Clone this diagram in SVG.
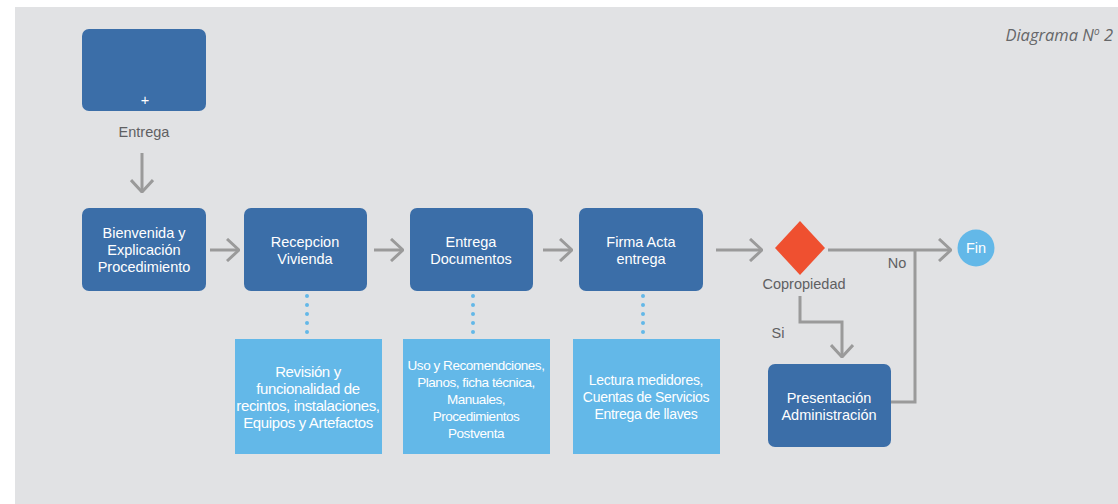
<svg xmlns="http://www.w3.org/2000/svg" width="1118" height="504" viewBox="0 0 1118 504">
<defs>
<marker id="arr" viewBox="0 0 14 24" refX="13" refY="12" markerWidth="14" markerHeight="24" markerUnits="userSpaceOnUse" orient="auto">
<path d="M1,1 L13,12 L1,23" fill="none" stroke="#9a9a9a" stroke-width="3"/>
</marker>
<style>
.node{fill:#3b6ea8;}
.info{fill:#63b8e8;}
.wt{font-family:"Liberation Sans",Arial,sans-serif;font-size:14.5px;fill:#ffffff;text-anchor:middle;}
.it{font-family:"Liberation Sans",Arial,sans-serif;fill:#ffffff;text-anchor:middle;}
.gt{font-family:"Liberation Sans",Arial,sans-serif;font-size:14.5px;fill:#5f6062;text-anchor:middle;}
.ln{fill:none;stroke:#9a9a9a;stroke-width:3;}
.dot{fill:none;stroke:#63b8e8;stroke-width:4;stroke-linecap:round;stroke-dasharray:0 9;}
</style>
</defs>
<rect x="15" y="7" width="1103" height="497" fill="#e1e2e4"/>
<text x="1113" y="41" font-family="'Open Sans','Liberation Sans',sans-serif" font-size="16.5" font-style="italic" fill="#666769" text-anchor="end">Diagrama N<tspan font-size="10" dy="-6">o</tspan><tspan dy="6"> 2</tspan></text>

<g id="connectors">
<line class="ln" x1="142" y1="153" x2="142" y2="192" marker-end="url(#arr)"/>
<line class="ln" x1="210" y1="250" x2="239" y2="250" marker-end="url(#arr)"/>
<line class="ln" x1="374" y1="250" x2="403" y2="250" marker-end="url(#arr)"/>
<line class="ln" x1="543" y1="250" x2="572" y2="250" marker-end="url(#arr)"/>
<line class="ln" x1="716" y1="250" x2="762" y2="250" marker-end="url(#arr)"/>
<line class="ln" x1="828" y1="250" x2="951" y2="250" marker-end="url(#arr)"/>
<polyline class="ln" points="800,296 800,322 842,322 842,357" marker-end="url(#arr)"/>
<polyline class="ln" points="891,402 915,402 915,250"/>
<line class="dot" x1="307" y1="296" x2="307" y2="334"/>
<line class="dot" x1="473" y1="296" x2="473" y2="334"/>
<line class="dot" x1="643" y1="296" x2="643" y2="334"/>
<text class="gt" x="897" y="268">No</text>
<text class="gt" x="778" y="338">Si</text>
</g>

<g id="start">
<rect class="node" x="82" y="29" width="124" height="82" rx="7"/>
<text class="wt" x="145" y="105">+</text>
<text class="gt" x="144" y="137">Entrega</text>
</g>
<g id="bienvenida">
<rect class="node" x="82" y="208" width="124" height="83" rx="7"/>
<text class="wt" x="144" y="238">Bienvenida y</text>
<text class="wt" x="144" y="255">Explicación</text>
<text class="wt" x="144" y="272">Procedimiento</text>
</g>
<g id="recepcion">
<rect class="node" x="244" y="208" width="123" height="83" rx="7"/>
<text class="wt" x="305" y="247">Recepcion</text>
<text class="wt" x="305" y="264">Vivienda</text>
</g>
<g id="documentos">
<rect class="node" x="410" y="208" width="123" height="83" rx="7"/>
<text class="wt" x="471" y="247">Entrega</text>
<text class="wt" x="471" y="264">Documentos</text>
</g>
<g id="firma">
<rect class="node" x="579" y="208" width="124" height="83" rx="7"/>
<text class="wt" x="641" y="247">Firma Acta</text>
<text class="wt" x="641" y="264">entrega</text>
</g>
<g id="copropiedad">
<polygon points="800,221 825,248 800,275 775,248" fill="#ef5030"/>
<text class="gt" x="804" y="289">Copropiedad</text>
</g>
<g id="fin">
<circle cx="976" cy="248" r="18.5" fill="#63b8e8"/>
<text class="wt" x="976" y="253">Fin</text>
</g>
<g id="administracion">
<rect class="node" x="768" y="364" width="123" height="83" rx="7"/>
<text class="wt" x="829" y="403">Presentación</text>
<text class="wt" x="829" y="420">Administración</text>
</g>
<g id="info1">
<rect class="info" x="235" y="339" width="147" height="115"/>
<g class="it" font-size="15" letter-spacing="-0.35">
<text x="308" y="377">Revisión y</text>
<text x="308" y="394">funcionalidad de</text>
<text x="308" y="411">recintos, instalaciones,</text>
<text x="308" y="428">Equipos y Artefactos</text>
</g>
</g>
<g id="info2">
<rect class="info" x="403" y="339" width="147" height="115"/>
<g class="it" font-size="13.5" letter-spacing="-0.45">
<text x="476" y="370">Uso y Recomendciones,</text>
<text x="476" y="387">Planos, ficha técnica,</text>
<text x="476" y="404">Manuales,</text>
<text x="476" y="421">Procedimientos</text>
<text x="476" y="438">Postventa</text>
</g>
</g>
<g id="info3">
<rect class="info" x="573" y="339" width="147" height="115"/>
<g class="it" font-size="14" letter-spacing="-0.3">
<text x="646" y="385">Lectura medidores,</text>
<text x="646" y="402">Cuentas de Servicios</text>
<text x="646" y="419">Entrega de llaves</text>
</g>
</g>
</svg>
